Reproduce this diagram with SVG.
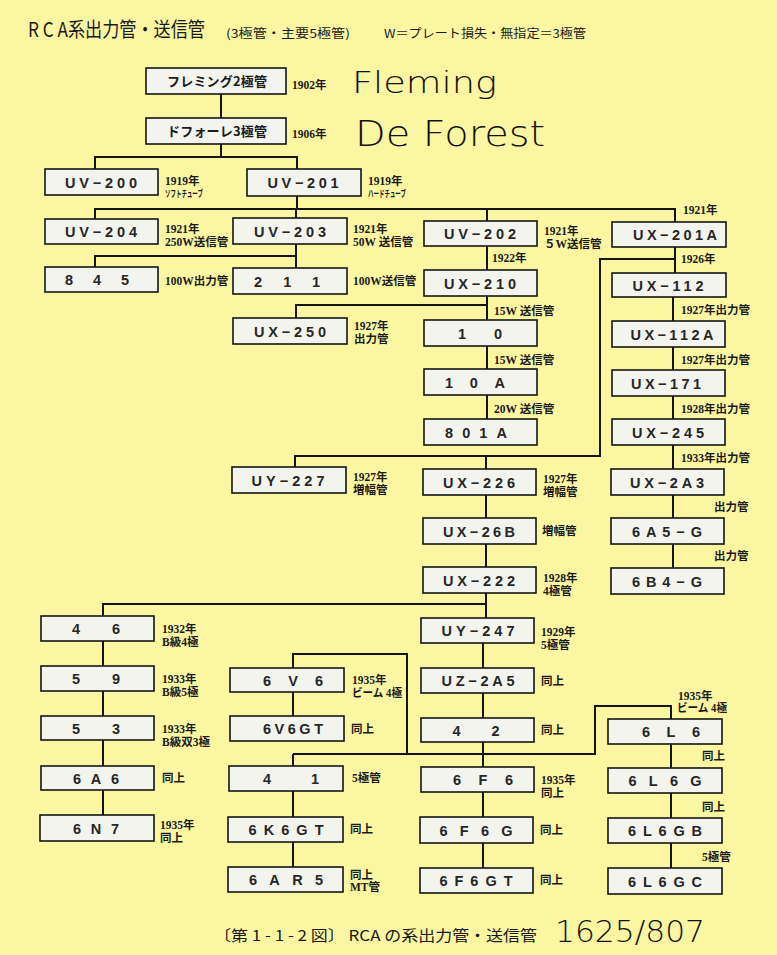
<svg xmlns="http://www.w3.org/2000/svg" width="777" height="955" viewBox="0 0 777 955">
<style>
.bg{fill:#faf6a2}
.bx{fill:#f4f4ef;stroke:#151515;stroke-width:1.6}
.t{font-family:"Liberation Sans","Noto Sans CJK JP",sans-serif;font-size:14.5px;font-weight:bold;fill:#262626;text-anchor:middle}
.tj{font-family:"Noto Sans CJK JP",sans-serif;font-size:13px;font-weight:bold;fill:#1a1a1a;text-anchor:middle}
.l{font-family:"Liberation Serif","Noto Sans CJK JP",serif;font-size:11.5px;font-weight:bold;fill:#1a1a1a}
.s{font-size:9.5px}
.c{fill:none;stroke:#151515;stroke-width:2}
.h{font-family:"DejaVu Sans",sans-serif;font-weight:200;fill:#111}
.ti{font-family:"Noto Sans CJK JP",sans-serif;fill:#1a1a1a}
</style>
<rect class="bg" x="0" y="0" width="777" height="955"/>

<g id="title">
<text class="ti" x="28" y="37" font-size="20" textLength="177" lengthAdjust="spacingAndGlyphs">R C A系出力管・送信管</text>
<text class="ti" x="226" y="38" font-size="12" textLength="124" lengthAdjust="spacingAndGlyphs">(3極管・主要5極管)</text>
<text class="ti" x="384" y="38" font-size="12" textLength="202" lengthAdjust="spacingAndGlyphs">W＝プレート損失・無指定＝3極管</text>
</g>

<g id="connectors">
<path class="c" d="M221,94V118 M221,144V157 M95,169V157H297V169"/>
<path class="c" d="M297,196V209 M95,219V209H675V222 M296,209V218 M487,209V221"/>
<path class="c" d="M296,244V256H95V267 M296,256V268 M487,246V270"/>
<path class="c" d="M675,247V273 M675,259H600V456H295V467 M486,456V469"/>
<path class="c" d="M487,296V320 M487,305H296V318 M487,346V369 M487,395V419"/>
<path class="c" d="M673,297V321 M673,347V370 M673,396V419 M673,445V469 M673,495V518 M673,544V568"/>
<path class="c" d="M486,495V518 M486,544V567 M486,593V618 M486,604H103V616"/>
<path class="c" d="M103,641V666 M103,691V716 M103,740V766 M103,790V815"/>
<path class="c" d="M293,668V654H407V754 M293,692V716 M293,754V766 M293,791V817 M293,842V867"/>
<path class="c" d="M483,643V668 M483,693V718 M483,742V767 M483,792V817 M483,843V868"/>
<path class="c" d="M293,754H595V706H671V719 M671,744V768 M671,793V818 M671,843V868"/>
</g>

<g id="fleming"><rect class="bx" x="146" y="68" width="140" height="26"/><text class="tj" x="217" y="86" textLength="100">フレミング2極管</text><text class="l" x="292" y="89">1902年</text></g>
<g id="deforest"><rect class="bx" x="146" y="118" width="140" height="26"/><text class="tj" x="217" y="136" textLength="100">ドフォーレ3極管</text><text class="l" x="292" y="138">1906年</text></g>
<g id="uv200"><rect class="bx" x="45" y="169" width="113" height="26"/><text class="t" x="101" y="187.5" textLength="72">UV−200</text><text class="l" x="165" y="185">1919年</text><text class="l s" x="165" y="197" textLength="38" lengthAdjust="spacingAndGlyphs">ソフトチューブ</text></g>
<g id="uv201"><rect class="bx" x="247" y="169" width="114" height="27"/><text class="t" x="303" y="188" textLength="71">UV−201</text><text class="l" x="368" y="185">1919年</text><text class="l s" x="368" y="197" textLength="38" lengthAdjust="spacingAndGlyphs">ハードチューブ</text></g>
<g id="uv204"><rect class="bx" x="45" y="219" width="113" height="25"/><text class="t" x="101" y="237" textLength="72">UV−204</text><text class="l" x="165" y="233">1921年</text><text class="l" x="165" y="246">250W送信管</text></g>
<g id="uv203"><rect class="bx" x="233" y="218" width="114" height="26"/><text class="t" x="290" y="236.5" textLength="72">UV−203</text><text class="l" x="353" y="233">1921年</text><text class="l" x="353" y="246">50W 送信管</text></g>
<g id="uv202"><rect class="bx" x="424" y="221" width="113" height="25"/><text class="t" x="480" y="239" textLength="72">UV−202</text><text class="l" x="544" y="235">1921年</text><text class="l" x="544" y="248">５W送信管</text></g>
<g id="ux201a"><rect class="bx" x="612" y="222" width="114" height="25"/><text class="t" x="675" y="240" textLength="84">UX−201A</text><text class="l" x="683" y="214">1921年</text></g>
<g id="t845"><rect class="bx" x="45" y="267" width="113" height="25"/><text class="t" x="97" y="285" textLength="64">845</text><text class="l" x="165" y="285">100W出力管</text></g>
<g id="t211"><rect class="bx" x="233" y="268" width="114" height="26"/><text class="t" x="287" y="286.5" textLength="66">211</text><text class="l" x="353" y="285">100W送信管</text></g>
<g id="ux210"><rect class="bx" x="424" y="270" width="113" height="26"/><text class="t" x="480" y="288.5" textLength="72">UX−210</text><text class="l" x="492" y="262">1922年</text></g>
<g id="ux112"><rect class="bx" x="612" y="273" width="114" height="24"/><text class="t" x="668" y="290.5" textLength="71">UX−112</text><text class="l" x="681" y="263">1926年</text></g>
<g id="ux250"><rect class="bx" x="233" y="318" width="114" height="26"/><text class="t" x="290" y="336.5" textLength="72">UX−250</text><text class="l" x="354" y="330">1927年</text><text class="l" x="354" y="343">出力管</text></g>
<g id="t10"><rect class="bx" x="424" y="320" width="113" height="26"/><text class="t" x="480" y="338.5" textLength="44">10</text><text class="l" x="494" y="315">15W 送信管</text></g>
<g id="t10a"><rect class="bx" x="424" y="369" width="113" height="26"/><text class="t" x="475" y="387.5" textLength="60">10A</text><text class="l" x="494" y="364">15W 送信管</text></g>
<g id="t801a"><rect class="bx" x="424" y="419" width="113" height="26"/><text class="t" x="476" y="437.5" textLength="62">801A</text><text class="l" x="494" y="413">20W 送信管</text></g>
<g id="ux112a"><rect class="bx" x="612" y="321" width="113" height="26"/><text class="t" x="672" y="339.5" textLength="83">UX−112A</text><text class="l" x="681" y="314">1927年出力管</text></g>
<g id="ux171"><rect class="bx" x="612" y="370" width="113" height="26"/><text class="t" x="666" y="388.5" textLength="70">UX−171</text><text class="l" x="681" y="364">1927年出力管</text></g>
<g id="ux245"><rect class="bx" x="612" y="419" width="113" height="26"/><text class="t" x="668" y="437.5" textLength="72">UX−245</text><text class="l" x="681" y="413">1928年出力管</text></g>
<g id="uy227"><rect class="bx" x="232" y="467" width="114" height="26"/><text class="t" x="288" y="485.5" textLength="73">UY−227</text><text class="l" x="353" y="481">1927年</text><text class="l" x="353" y="494">増幅管</text></g>
<g id="ux226"><rect class="bx" x="423" y="469" width="113" height="26"/><text class="t" x="479" y="487.5" textLength="72">UX−226</text><text class="l" x="543" y="483">1927年</text><text class="l" x="543" y="496">増幅管</text></g>
<g id="ux2a3"><rect class="bx" x="611" y="469" width="113" height="26"/><text class="t" x="667" y="487.5" textLength="74">UX−2A3</text><text class="l" x="681" y="462">1933年出力管</text></g>
<g id="ux26b"><rect class="bx" x="423" y="518" width="113" height="26"/><text class="t" x="479" y="536.5" textLength="72">UX−26B</text><text class="l" x="542" y="535">増幅管</text></g>
<g id="t6a5g"><rect class="bx" x="611" y="518" width="113" height="26"/><text class="t" x="667" y="536.5" textLength="70">6A5−G</text><text class="l" x="714" y="511">出力管</text></g>
<g id="ux222"><rect class="bx" x="423" y="567" width="113" height="26"/><text class="t" x="479" y="585.5" textLength="72">UX−222</text><text class="l" x="543" y="582">1928年</text><text class="l" x="543" y="595">4極管</text></g>
<g id="t6b4g"><rect class="bx" x="611" y="568" width="113" height="26"/><text class="t" x="667" y="586.5" textLength="70">6B4−G</text><text class="l" x="714" y="560">出力管</text></g>
<g id="t46"><rect class="bx" x="41" y="616" width="113" height="25"/><text class="t" x="96" y="634" textLength="48">46</text><text class="l" x="162" y="633">1932年</text><text class="l" x="162" y="646">B級4極</text></g>
<g id="t59"><rect class="bx" x="41" y="666" width="113" height="25"/><text class="t" x="96" y="684" textLength="48">59</text><text class="l" x="162" y="683">1933年</text><text class="l" x="162" y="696">B級5極</text></g>
<g id="t53"><rect class="bx" x="41" y="716" width="113" height="24"/><text class="t" x="96" y="733.5" textLength="48">53</text><text class="l" x="162" y="733">1933年</text><text class="l" x="162" y="746">B級双3極</text></g>
<g id="t6a6"><rect class="bx" x="41" y="766" width="113" height="24"/><text class="t" x="96" y="783.5" textLength="46">6A6</text><text class="l" x="162" y="782">同上</text></g>
<g id="t6n7"><rect class="bx" x="40" y="815" width="114" height="26"/><text class="t" x="96" y="833.5" textLength="46">6N7</text><text class="l" x="160" y="829">1935年</text><text class="l" x="160" y="842">同上</text></g>
<g id="t6v6"><rect class="bx" x="230" y="668" width="114" height="24"/><text class="t" x="293" y="685.5" textLength="60">6V6</text><text class="l" x="352" y="684">1935年</text><text class="l" x="352" y="697" textLength="50" lengthAdjust="spacingAndGlyphs">ビーム 4極</text></g>
<g id="t6v6gt"><rect class="bx" x="230" y="716" width="114" height="25"/><text class="t" x="293" y="734" textLength="60">6V6GT</text><text class="l" x="351" y="733">同上</text></g>
<g id="t41"><rect class="bx" x="229" y="766" width="114" height="25"/><text class="t" x="291" y="784" textLength="56">41</text><text class="l" x="352" y="782">5極管</text></g>
<g id="t6k6gt"><rect class="bx" x="228" y="817" width="115" height="25"/><text class="t" x="286" y="835" textLength="75">6K6GT</text><text class="l" x="350" y="833">同上</text></g>
<g id="t6ar5"><rect class="bx" x="228" y="867" width="115" height="25"/><text class="t" x="286" y="885" textLength="74">6AR5</text><text class="l" x="350" y="879">同上</text><text class="l" x="350" y="891">MT管</text></g>
<g id="uy247"><rect class="bx" x="421" y="618" width="113" height="25"/><text class="t" x="478" y="636" textLength="73">UY−247</text><text class="l" x="541" y="636">1929年</text><text class="l" x="541" y="649">5極管</text></g>
<g id="uz2a5"><rect class="bx" x="421" y="668" width="113" height="25"/><text class="t" x="478" y="686" textLength="73">UZ−2A5</text><text class="l" x="541" y="685">同上</text></g>
<g id="t42"><rect class="bx" x="421" y="718" width="113" height="24"/><text class="t" x="476" y="735.5" textLength="47">42</text><text class="l" x="541" y="734">同上</text></g>
<g id="t6f6"><rect class="bx" x="421" y="767" width="113" height="25"/><text class="t" x="483" y="785" textLength="60">6F6</text><text class="l" x="541" y="784">1935年</text><text class="l" x="541" y="797">同上</text></g>
<g id="t6f6g"><rect class="bx" x="420" y="817" width="113" height="26"/><text class="t" x="476" y="835.5" textLength="73">6F6G</text><text class="l" x="540" y="834">同上</text></g>
<g id="t6f6gt"><rect class="bx" x="420" y="868" width="113" height="25"/><text class="t" x="476" y="886" textLength="73">6F6GT</text><text class="l" x="540" y="884">同上</text></g>
<g id="t6l6"><rect class="bx" x="608" y="719" width="114" height="25"/><text class="t" x="671" y="737" textLength="58">6L6</text><text class="l" x="678" y="700">1935年</text><text class="l" x="677" y="712" textLength="50" lengthAdjust="spacingAndGlyphs">ビーム 4極</text></g>
<g id="t6l6g"><rect class="bx" x="608" y="768" width="114" height="25"/><text class="t" x="665" y="786" textLength="73">6L6G</text><text class="l" x="702" y="760">同上</text></g>
<g id="t6l6gb"><rect class="bx" x="608" y="818" width="114" height="25"/><text class="t" x="665" y="836" textLength="74">6L6GB</text><text class="l" x="702" y="811">同上</text></g>
<g id="t6l6gc"><rect class="bx" x="608" y="868" width="114" height="26"/><text class="t" x="665" y="886.5" textLength="74">6L6GC</text><text class="l" x="702" y="861">5極管</text></g>

<g id="notes">
<text class="h" x="352" y="93" font-size="30" textLength="145" lengthAdjust="spacingAndGlyphs">Fleming</text>
<text class="h" x="355" y="146" font-size="36" textLength="190" lengthAdjust="spacingAndGlyphs">De Forest</text>
<text class="h" x="555" y="942" font-size="30" textLength="150" lengthAdjust="spacingAndGlyphs">1625/807</text>
</g>
<g id="caption">
<text class="ti" x="214" y="941" font-size="15" textLength="323" lengthAdjust="spacingAndGlyphs">〔第 1 - 1 - 2 図〕 RCA の系出力管・送信管</text>
</g>
</svg>
